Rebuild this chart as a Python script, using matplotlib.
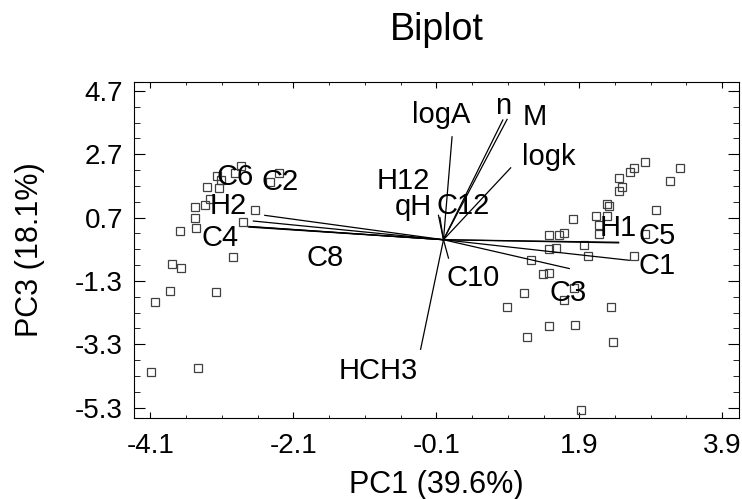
import matplotlib
matplotlib.use("Agg")
import matplotlib.pyplot as plt
import numpy as np

plt.rcParams["font.family"] = ["Liberation Sans", "DejaVu Sans"]

# observation scores (PC1, PC3)
score_x = [
    -2.83, -2.92, -3.17, -3.11, -3.31, -3.14, -2.30, -2.43, -3.26, -3.33,
    -3.47, -2.64, -3.47, -2.81, -3.69, -3.46, -2.94, -3.80, -3.67, -3.82,
    -4.03, -3.18, -4.09, -3.43,
    2.82, 2.66, 2.61, 3.31, 2.46, 2.50, 2.45, 3.17, 2.29, 2.32,
    2.98, 1.81, 2.14, 2.29, 2.18, 2.17, 1.47, 1.61, 1.69, 2.82,
    1.96, 1.47, 1.58, 2.02, 2.67, 1.23, 1.39, 1.48, 1.82, 1.69,
    1.13, 0.89, 2.34, 1.48, 1.84, 1.17, 2.37, 1.93,
]
score_y = [
    2.34, 2.10, 2.00, 1.87, 1.65, 1.62, 2.11, 1.81, 1.30, 1.10,
    1.04, 0.93, 0.70, 0.56, 0.27, 0.36, -0.55, -0.77, -0.90, -1.61,
    -1.98, -1.64, -4.18, -4.06,
    2.45, 2.27, 2.13, 2.27, 1.94, 1.65, 1.55, 1.84, 1.14, 1.07,
    0.93, 0.65, 0.75, 0.75, 0.47, 0.17, 0.14, 0.14, 0.20, 0.17,
    -0.17, -0.29, -0.26, -0.51, -0.51, -0.63, -1.09, -1.05, -1.53, -1.90,
    -1.67, -2.12, -2.12, -2.73, -2.69, -3.06, -3.23, -5.37,
]

# variable loadings (vector ends) and their label positions
var_names = ["C2", "H2", "C6", "C4", "C8", "logA", "n", "M", "logk", "H12",
             "qH", "C12", "HCH3", "C10", "H1", "C5", "C1", "C3"]
load_x = [-2.50, -2.66, -2.72, -2.73, -2.70, 0.12, 0.83, 0.89, 0.94, -0.07,
          -0.05, 0.02, -0.32, 0.07, 2.45, 2.45, 2.60, 1.76]
load_y = [0.77, 0.59, 0.42, 0.40, 0.41, 3.25, 3.78, 3.80, 2.27, 0.77,
          0.70, 0.10, -3.46, -0.58, -0.10, -0.08, -0.65, -0.91]
label_x = [-2.28, -3.01, -2.92, -3.12, -1.66, -0.03, 0.83, 1.27, 1.47, -0.56,
           -0.42, 0.28, -0.91, 0.42, 2.45, 2.99, 2.99, 1.75]
label_y = [1.81, 1.07, 1.97, 0.06, -0.58, 3.94, 4.22, 3.86, 2.61, 1.84,
           1.03, 1.05, -4.13, -1.21, 0.38, 0.11, -0.84, -1.69]

x_ticks = [-4.1, -2.1, -0.1, 1.9, 3.9]
y_ticks = [-5.3, -3.3, -1.3, 0.7, 2.7, 4.7]

fig = plt.figure(figsize=(7.42, 4.99), dpi=100)
ax = fig.add_axes([0.1806, 0.1629, 0.8149, 0.6734])

ax.plot(score_x, score_y, "s", mfc="none", mec="#404040", ms=6, mew=0.9)

for lx, ly in zip(load_x, load_y):
    ax.plot([0, lx], [0, ly], color="black", lw=0.9)

for name, tx, ty in zip(var_names, label_x, label_y):
    ax.text(tx, ty, name, ha="center", va="center", fontsize=21)

ax.set_xlim(-4.33, 4.13)
ax.set_ylim(-5.62, 4.99)
ax.set_xticks(x_ticks)
ax.set_yticks(y_ticks)
ax.set_xticklabels([str(t) for t in x_ticks])
ax.set_yticklabels([str(t) for t in y_ticks])
ax.set_xticks(np.arange(-4.1, 4.1, 0.5), minor=True)
ax.set_yticks(np.arange(-5.3, 5.0, 0.5), minor=True)

ax.tick_params(axis="both", which="both", direction="in", top=True, right=True,
               labelsize=20)
ax.tick_params(axis="x", which="major", length=4.5, pad=11)
ax.tick_params(axis="x", which="minor", length=2)
ax.tick_params(axis="y", which="major", length=8, pad=8)
ax.tick_params(axis="y", which="minor", length=4)

ax.set_xlabel("PC1 (39.6%)", fontsize=22)
ax.set_ylabel("PC3 (18.1%)", fontsize=22)
ax.xaxis.set_label_coords(0.5, -0.155)
ax.yaxis.set_label_coords(-0.147, 0.5)
ax.set_title("Biplot", fontsize=27, pad=30)

fig.savefig("out.png", dpi=100)
